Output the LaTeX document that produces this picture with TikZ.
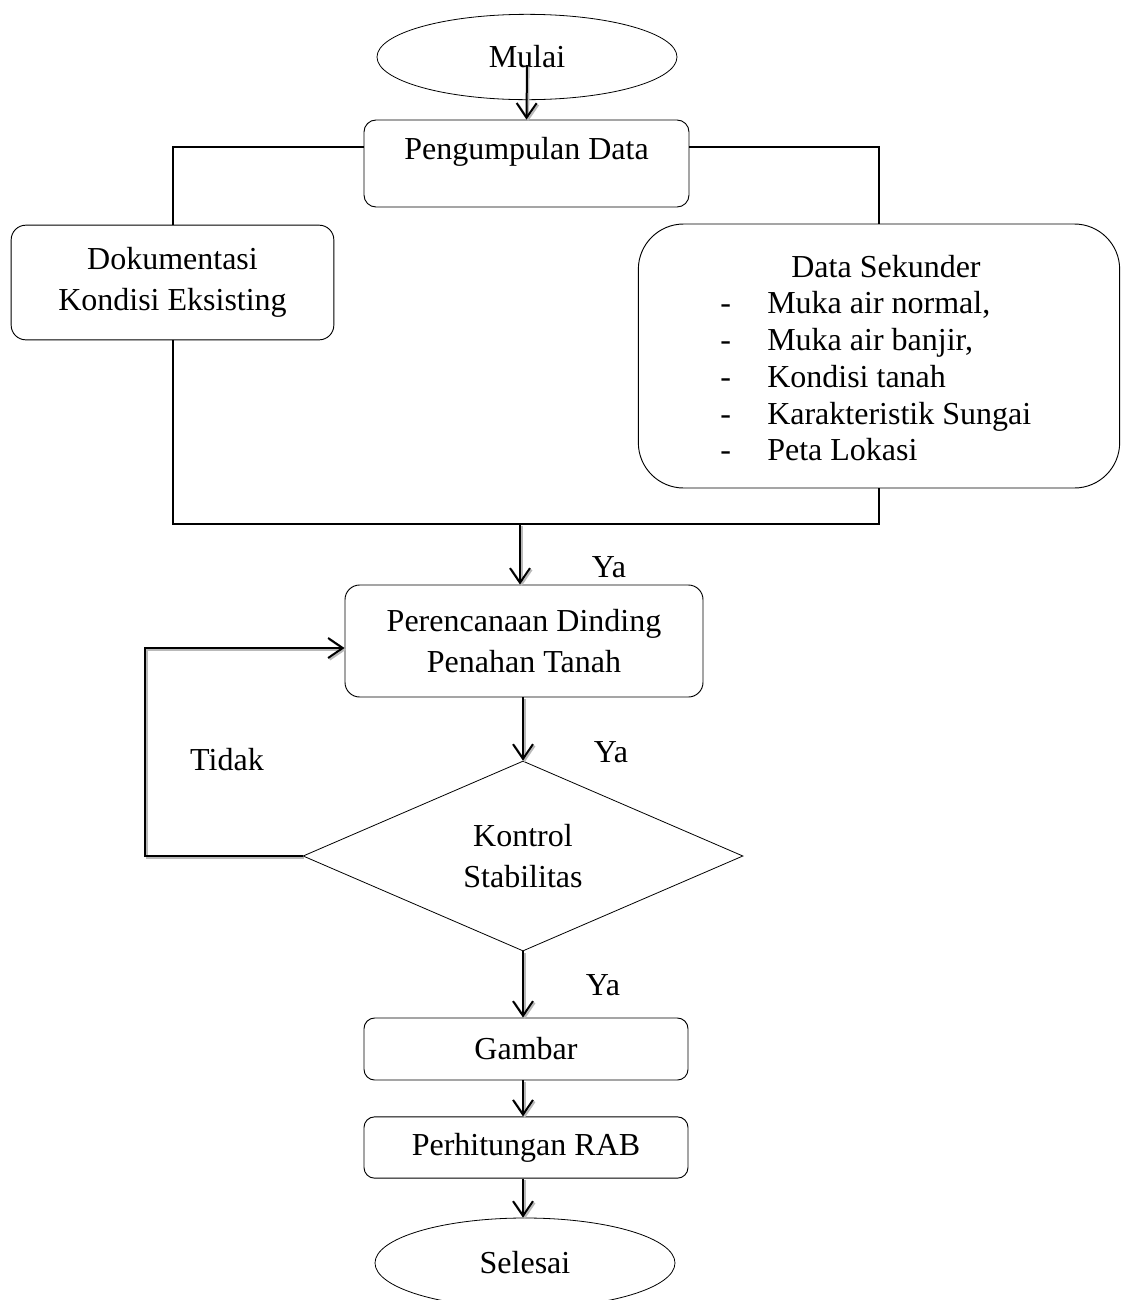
\documentclass[tikz,border=0pt]{standalone}
\usepackage{fontspec}
\setmainfont{Liberation Serif}
\usetikzlibrary{shapes.geometric,arrows.meta,calc}
\begin{document}
\begin{tikzpicture}[x=0.75pt,y=-0.75pt,
  every node/.style={font=\fontsize{24}{31}\selectfont, inner sep=0pt},
  term/.style={ellipse,draw,line width=0.6pt,minimum width=225pt,minimum height=64pt},
  box/.style={draw,line width=0.7pt,rounded corners=#1,align=center},
  dia/.style={diamond,draw,line width=0.6pt,align=center},
  conn/.style={line width=1.5pt},
  arr/.style={conn,-{Straight Barb[length=11pt,width=15pt]},
    preaction={draw=gray!55,line width=1.5pt,-{Straight Barb[length=11pt,width=15pt]},
      transform canvas={shift={(1.2pt,-1.2pt)}}}}
]
\useasboundingbox (0,0) rectangle (1123,1300);

\node[term] (mulai) at (527,57) {Mulai};
\node[box=9pt, minimum width=243.75pt, minimum height=65.25pt,
  label={[yshift=8.6pt]center:Pengumpulan Data}] (peng) at (526.5,163.5) {};
\node[box=11pt, minimum width=242pt, minimum height=86pt] (dok) at (172.5,282.5) {Dokumentasi\\Kondisi Eksisting};
\node[box=34pt, minimum width=361pt, minimum height=198pt] (sek) at (879,356) {};
\node[anchor=base] (sekt) at (886,277) {Data Sekunder};
\node[anchor=base west] (d1) at (720,313) {-};
\node[anchor=base west] (i1) at (767,313) {Muka air normal,};
\node[anchor=base west] (d2) at (720,350) {-};
\node[anchor=base west] (i2) at (767,350) {Muka air banjir,};
\node[anchor=base west] (d3) at (720,387) {-};
\node[anchor=base west] (i3) at (767,387) {Kondisi tanah};
\node[anchor=base west] (d4) at (720,424) {-};
\node[anchor=base west] (i4) at (767,424) {Karakteristik Sungai};
\node[anchor=base west] (d5) at (720,460) {-};
\node[anchor=base west] (i5) at (767,460) {Peta Lokasi};

\node[box=11pt, minimum width=268.5pt, minimum height=84pt] (per) at (524,641) {Perencanaan Dinding\\Penahan Tanah};
\node[dia, minimum width=330pt, minimum height=142.5pt] (dia) at (523,856) {Kontrol\\Stabilitas};
\node[box=8pt, minimum width=243pt, minimum height=46.5pt] (gam) at (526,1049) {Gambar};
\node[box=8pt, minimum width=243pt, minimum height=46pt] (rab) at (526,1147.5) {Perhitungan RAB};
\node[term, minimum height=67.5pt] (sel) at (525,1263) {Selesai};

\node (ya1) at (609,567) {Ya};
\node (ya2) at (611,752) {Ya};
\node (ya3) at (603,985) {Ya};
\node (tidak) at (227,760) {Tidak};

\draw[arr] ($(mulai.center)+(0,8)$) -- (peng.north);
\draw[conn] ($(peng.west)+(0,-16.5)$) -| (dok.north);
\draw[conn] ($(peng.east)+(0,-16.5)$) -| (sek.north);
\coordinate (merge) at (520,524);
\draw[conn] (dok.south) |- (merge) -| (sek.south);
\draw[arr] (merge) -- (merge |- per.north);
\draw[arr] (per.south -| dia.north) -- (dia.north);
\draw[arr] (dia.south) -- (gam.north -| dia.south);
\draw[arr] (gam.south -| dia.south) -- (rab.north -| dia.south);
\draw[arr] (rab.south -| dia.south) -- (sel.north -| dia.south);
\coordinate (fb) at (145,648);
\draw[arr] (dia.west) -| (fb) -- (fb -| per.west);
\end{tikzpicture}
\end{document}
